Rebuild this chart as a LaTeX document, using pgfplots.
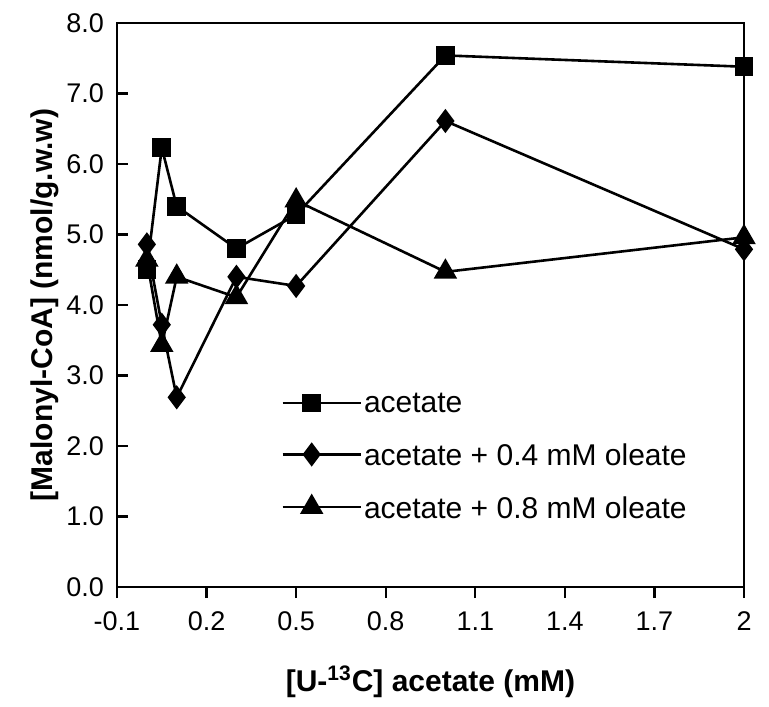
\documentclass[border=0pt]{standalone}
\usepackage{pgfplots}
\pgfplotsset{compat=1.18}
\usepackage{fontspec}
\setmainfont{Liberation Sans}
\usetikzlibrary{calc}

\begin{document}
\begin{tikzpicture}
\begin{axis}[
    name=ax,
    scale only axis,
    width=313.5pt, height=282pt,
    xmin=-0.1, xmax=2.0,
    ymin=0, ymax=8,
    xtick={-0.1,0.2,0.5,0.8,1.1,1.4,1.7,2.0},
    xticklabels={-0.1,0.2,0.5,0.8,1.1,1.4,1.7,2},
    ytick={0,1,...,8},
    xtick pos=bottom, ytick pos=left,
    tick align=outside,
    major tick length=5.5pt,
    y tick style={xshift=5.5pt},
    tick style={black, line width=1.1pt},
    axis line style={line width=1.2pt},
    /pgf/number format/assume math mode=true,
    yticklabel={\pgfmathprintnumber[fixed,fixed zerofill,precision=1]{\tick}},
    ticklabel style={font=\fontsize{13.5}{15}\selectfont},
    xticklabel style={yshift=-3.5pt},
    yticklabel style={xshift=2.5pt},
    xlabel={\textbf{[U-\textsuperscript{13}C] acetate (mM)}},
    ylabel={\textbf{[Malonyl-CoA] (nmol/g.w.w)}},
    label style={font=\fontsize{15}{17}\selectfont},
    xlabel style={yshift=-10.5pt},
    ylabel style={yshift=-3pt},
    every axis plot/.append style={black, line width=1.3pt},
    legend style={draw=none, fill=none, at={(0.252,0.355)}, anchor=north west,
        font=\fontsize{15}{17}\selectfont, row sep=13.5pt,
        nodes={inner sep=1pt, text depth=0pt}},
    legend cell align=left,
    legend image code/.code={
        \draw[mark repeat=2,mark phase=2] plot coordinates {(0pt,0pt)(14.5pt,0pt)(29pt,0pt)};
        \path (29pt,0pt) -- (39pt,0pt);
    },
]
\addplot[mark=square*, mark size=4pt, mark options={solid}] coordinates {
    (0,4.50) (0.05,6.23) (0.1,5.40) (0.3,4.80) (0.5,5.28) (1.0,7.54) (2.0,7.38)};
\addlegendentry{acetate}
\addplot[mark=diamond*, mark size=5pt, mark options={solid}] coordinates {
    (0,4.86) (0.05,3.72) (0.1,2.69) (0.3,4.40) (0.5,4.27) (1.0,6.61) (2.0,4.79)};
\addlegendentry{acetate + 0.4 mM oleate}
\addplot[mark=triangle*, mark size=5.5pt, mark options={solid}] coordinates {
    (0,4.64) (0.05,3.43) (0.1,4.40) (0.3,4.11) (0.5,5.48) (1.0,4.47) (2.0,4.96)};
\addlegendentry{acetate + 0.8 mM oleate}
\end{axis}
\path ($(ax.south west)+(-58.5pt,-59.5pt)$) rectangle ($(ax.north east)+(12.5pt,11.5pt)$);
\end{tikzpicture}
\end{document}
